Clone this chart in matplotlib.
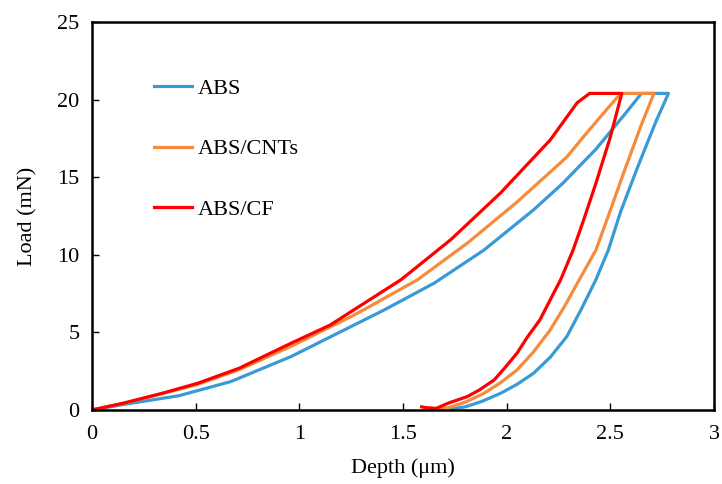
import matplotlib.pyplot as plt

plt.rcParams['font.family'] = ['Liberation Serif', 'DejaVu Serif']

# depth (um) and load (mN): loading, hold at peak, unloading
abs_depth = [0.0, 0.15, 0.42, 0.67, 0.96, 1.25, 1.41, 1.65, 1.89, 2.13, 2.27, 2.43,
             2.56, 2.65, 2.78, 2.72, 2.63, 2.55, 2.49, 2.43, 2.36, 2.29, 2.21, 2.13,
             2.05, 1.97, 1.88, 1.80, 1.73]
abs_load = [0.0, 0.35, 0.92, 1.83, 3.44, 5.38, 6.45, 8.17, 10.3, 12.9, 14.6, 16.8,
            18.9, 20.4, 20.4, 18.6, 15.6, 12.8, 10.3, 8.39, 6.5, 4.73, 3.4, 2.37,
            1.65, 1.07, 0.55, 0.2, 0.05]

cnt_depth = [0.0, 0.15, 0.34, 0.51, 0.71, 0.96, 1.25, 1.31, 1.57, 1.81, 2.05, 2.29,
             2.37, 2.44, 2.53, 2.56, 2.71, 2.65, 2.57, 2.49, 2.43, 2.35, 2.28, 2.21,
             2.13, 2.05, 1.97, 1.89, 1.80, 1.72, 1.68]
cnt_load = [0.0, 0.42, 1.05, 1.65, 2.6, 4.1, 6.02, 6.45, 8.39, 10.75, 13.4, 16.3,
            17.6, 18.7, 20.1, 20.4, 20.4, 18.4, 15.5, 12.5, 10.3, 8.39, 6.7, 5.16,
            3.75, 2.58, 1.75, 1.07, 0.5, 0.15, 0.1]

cf_depth = [0.0, 0.15, 0.34, 0.51, 0.71, 0.96, 1.15, 1.25, 1.49, 1.73, 1.97,
            2.21, 2.34, 2.40, 2.555, 2.50, 2.43, 2.37, 2.32, 2.26, 2.21, 2.16, 2.10,
            2.05, 1.99, 1.94, 1.87, 1.81, 1.72, 1.66, 1.61, 1.59]
cf_load = [0.0, 0.43, 1.08, 1.72, 2.69, 4.30, 5.48, 6.34, 8.39, 10.97, 13.98,
           17.4, 19.8, 20.4, 20.4, 17.6, 14.6, 12.2, 10.3, 8.39, 7.1, 5.8, 4.7,
           3.66, 2.7, 1.94, 1.3, 0.86, 0.45, 0.1, 0.15, 0.2]

colors = {'ABS': '#3a9ad6', 'ABS/CNTs': '#f58c3c', 'ABS/CF': '#ff0000'}

fig = plt.figure(figsize=(7.22, 4.84), dpi=100)
ax = fig.add_axes([0.1274, 0.153, 0.8616, 0.8015])

ax.plot(abs_depth, abs_load, color=colors['ABS'], lw=2.3, label='ABS')
ax.plot(cnt_depth, cnt_load, color=colors['ABS/CNTs'], lw=2.3, label='ABS/CNTs')
ax.plot(cf_depth, cf_load, color=colors['ABS/CF'], lw=2.3, label='ABS/CF')

ax.set_xlim(0, 3)
ax.set_ylim(0, 25)
ax.set_xticks([0, 0.5, 1, 1.5, 2, 2.5, 3])
ax.set_xticklabels(['0', '0.5', '1', '1.5', '2', '2.5', '3'])
ax.set_yticks([0, 5, 10, 15, 20, 25])
ax.tick_params(direction='in', length=5, width=1, labelsize=16)
ax.tick_params(axis='x', pad=11)
ax.tick_params(axis='y', pad=9)
for s in ax.spines.values():
    s.set_linewidth(1.8)

ax.set_xlabel('Depth (\u03bcm)', fontsize=16, labelpad=10)
ax.set_ylabel('Load (mN)', fontsize=16, labelpad=14)

ax.legend(loc='upper left', bbox_to_anchor=(0.1, 0.855), frameon=False, fontsize=16,
          handlelength=1.7, handletextpad=0.25, labelspacing=1.8,
          borderpad=0, borderaxespad=0)

fig.savefig('out.png', dpi=100)
